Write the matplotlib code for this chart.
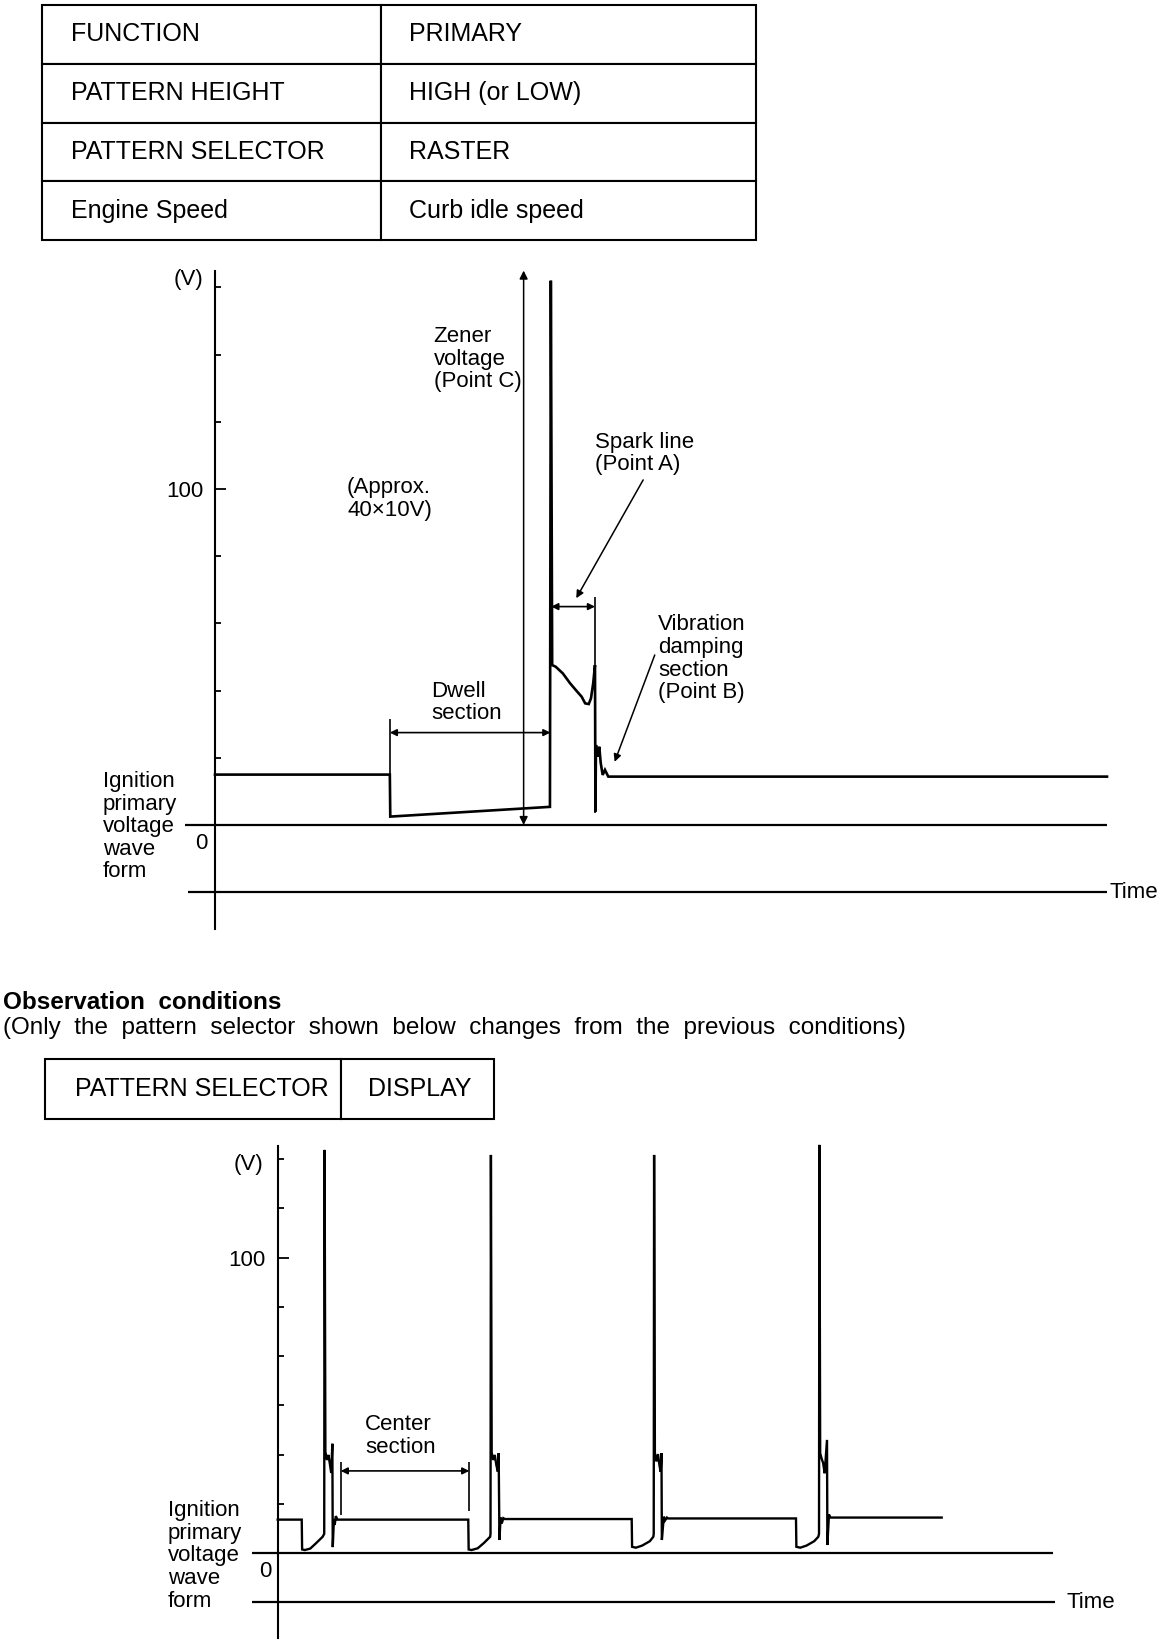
import matplotlib.pyplot as plt

plt.rcParams['font.family'] = ['Liberation Sans', 'DejaVu Sans']

# condition tables
table1_rows = [
    ['FUNCTION', 'PRIMARY'],
    ['PATTERN HEIGHT', 'HIGH (or LOW)'],
    ['PATTERN SELECTOR', 'RASTER'],
    ['Engine Speed', 'Curb idle speed'],
]
table2_rows = [['PATTERN SELECTOR', 'DISPLAY']]

# RASTER pattern: one ignition cycle (time in screen units, volts)
raster_t = [0, 19.6, 19.65, 37.55, 37.65, 37.8, 38.2, 39.0, 39.8, 40.6, 41.1, 41.5, 41.9,
            42.15, 42.4, 42.6, 42.65, 42.71, 42.9, 43.08, 43.24, 43.46, 43.72, 44.09, 100]
raster_v = [15.0, 15.0, 2.5, 5.4, 162, 47.6, 47.1, 45.1, 42.2, 39.7, 38.2, 36.2, 36.0,
            37.7, 42.2, 47.6, 4.0, 23.8, 20.3, 23.3, 18.5, 14.9, 16.4, 14.4, 14.4]
raster_ticks = [20, 40, 60, 80, 100, 120, 140, 160]

# DISPLAY pattern: four cylinders in a row
display_t = [0, 3.10, 3.15, 3.5, 4.2, 4.9, 5.8, 6.0, 6.05, 6.15, 6.35, 6.55, 6.75, 6.9, 7.05, 7.1,
             7.25, 7.35, 7.5, 7.7,
             24.58, 24.63, 25.0, 25.8, 26.6, 27.4, 27.45, 27.5, 27.6, 27.8, 28.0, 28.2, 28.4, 28.5,
             28.6, 28.75, 28.9, 29.1, 29.3,
             45.66, 45.71, 46.2, 47.0, 48.0, 48.45, 48.5, 48.55, 48.65, 48.85, 49.05, 49.25, 49.4,
             49.5, 49.55, 49.8, 49.95, 50.2, 50.35,
             66.85, 66.9, 67.4, 68.2, 69.2, 69.73, 69.82, 69.87, 69.97, 70.15, 70.35, 70.55, 70.85,
             70.9, 71.1, 71.3, 85.64]
display_v = [11.3, 11.3, 1.2, 1.0, 1.5, 3.2, 5.5, 6.5, 136.5, 34.3, 31.5, 33.2, 29.8, 27.1, 37.0, 2.0,
             11.5, 9.5, 12.5, 11.3,
             11.3, 1.2, 1.0, 1.6, 3.4, 5.5, 6.5, 134.8, 34.0, 31.5, 33.2, 29.8, 27.5, 33.8,
             4.4, 12.0, 10.0, 11.8, 11.5,
             11.5, 2.1, 1.8, 2.5, 4.0, 5.5, 6.5, 134.8, 33.8, 31.0, 33.5, 29.5, 27.5,
             33.8, 4.4, 12.3, 11.0, 12.0, 11.7,
             11.7, 2.1, 1.8, 2.5, 4.0, 5.5, 6.5, 138.2, 33.8, 32.0, 30.5, 27.0, 38.3,
             2.7, 13.0, 12.0, 12.0]
display_ticks = [16.7, 33.3, 50, 66.7, 83.3, 100, 116.7, 133.3]

W, H = 1168, 1646
FS = 16
LS = 1.1
fig = plt.figure(figsize=(W / 100, H / 100), dpi=100)


def px_axes(x0, y0, x1, y1):
    return fig.add_axes([x0 / W, 1 - y1 / H, (x1 - x0) / W, (y1 - y0) / H])


def scope_axes(ox, oy, sx, sy, xlim, ylim):
    # ox, oy: pixel position of (t=0, V=0); sx, sy: pixels per unit
    ax = px_axes(ox + xlim[0] * sx, oy - ylim[1] * sy, ox + xlim[1] * sx, oy - ylim[0] * sy)
    ax.set_xlim(*xlim)
    ax.set_ylim(*ylim)
    ax.patch.set_visible(False)
    return ax


def style_scope(ax, bounds, ticks, pad):
    for s in ['top', 'right', 'bottom']:
        ax.spines[s].set_visible(False)
    ax.spines['left'].set_position(('data', 0))
    ax.spines['left'].set_bounds(*bounds)
    ax.spines['left'].set_linewidth(1.5)
    ax.set_xticks([])
    ax.set_yticks([100], ['100'])
    ax.set_yticks([v for v in ticks if v != 100], minor=True)
    ax.tick_params(axis='y', which='major', direction='in', length=8, width=1.3,
                   labelsize=FS, pad=pad)
    ax.tick_params(axis='y', which='minor', direction='in', length=4, width=1.3)


def draw_table(box, rows, col_widths, pads):
    ax = px_axes(*box)
    ax.axis('off')
    tb = ax.table(cellText=rows, colWidths=col_widths, cellLoc='left', bbox=[0, 0, 1, 1])
    tb.auto_set_font_size(False)
    tb.set_fontsize(18)
    for (r, c), cell in tb.get_celld().items():
        cell.set_linewidth(1.5)
        cell.PAD = pads[c]


def dim_arrow(ax, x0, x1, y):
    ax.annotate('', xy=(x1, y), xytext=(x0, y),
                arrowprops=dict(arrowstyle='<|-|>', color='black', lw=1.2,
                                mutation_scale=10, shrinkA=0, shrinkB=0))


def pointer(ax, xy_from, xy_to):
    ax.annotate('', xy=xy_to, xytext=xy_from,
                arrowprops=dict(arrowstyle='-|>', color='black', lw=1.1,
                                mutation_scale=11, shrinkA=0, shrinkB=0))


# ---- first table
draw_table((42, 5, 756, 240), table1_rows, [0.475, 0.525], [0.086, 0.073])

# ---- RASTER scope
ax1 = scope_axes(215, 825, 8.92, 3.36, (-3.5, 100.5), (-33, 167))
style_scope(ax1, (-31, 165), raster_ticks, 8.5)
ax1.hlines(0, -3.36, 100, color='black', lw=1.6)
ax1.hlines(-20, -3.0, 100, color='black', lw=1.6)
ax1.plot(raster_t, raster_v, color='black', lw=1.9, solid_joinstyle='miter')

ax1.text(100.3, -20, 'Time', fontsize=FS, va='center', ha='left', clip_on=False)
ax1.text(-1.35, 162.5, '(V)', fontsize=FS, va='center', ha='right')
ax1.text(-0.8, -5.4, '0', fontsize=FS, va='center', ha='right')
ax1.text(-12.6, -0.5, 'Ignition\nprimary\nvoltage\nwave\nform', fontsize=FS,
         va='center', ha='left', linespacing=LS, clip_on=False)

# zener voltage arrow
ax1.annotate('', xy=(34.6, 165), xytext=(34.6, 0),
             arrowprops=dict(arrowstyle='<|-|>', color='black', lw=1.1,
                             mutation_scale=12, shrinkA=0, shrinkB=0))
ax1.text(24.5, 148.5, 'Zener\nvoltage\n(Point C)', fontsize=FS, va='top', ha='left', linespacing=LS)
ax1.text(14.8, 103.5, '(Approx.\n40×10V)', fontsize=FS, va='top', ha='left', linespacing=LS)

# dwell section
ax1.vlines(19.6, 8.2, 31.5, color='black', lw=1.2)
dim_arrow(ax1, 19.6, 37.6, 27.5)
ax1.text(24.2, 43.0, 'Dwell\nsection', fontsize=FS, va='top', ha='left', linespacing=LS)

# spark line
ax1.vlines(42.6, 3.6, 68, color='black', lw=1.2)
dim_arrow(ax1, 37.7, 42.6, 65)
pointer(ax1, (48.0, 102.7), (40.5, 67.5))
ax1.text(42.6, 117, 'Spark line\n(Point A)', fontsize=FS, va='top', ha='left', linespacing=LS)

# vibration damping
pointer(ax1, (49.3, 50.6), (44.8, 18.8))
ax1.text(49.7, 62.7, 'Vibration\ndamping\nsection\n(Point B)', fontsize=FS, va='top',
         ha='left', linespacing=LS)

# ---- observation conditions
fig.text(3 / W, 1 - 1003 / H, 'Observation  conditions', fontsize=17.5, fontweight='bold',
         va='center')
fig.text(3 / W, 1 - 1028 / H,
         '(Only  the  pattern  selector  shown  below  changes  from  the  previous  conditions)',
         fontsize=17.5, va='center')
draw_table((45, 1059, 494, 1119), table2_rows, [0.659, 0.341], [0.101, 0.18])

# ---- DISPLAY scope
ax2 = scope_axes(277.7, 1553, 7.753, 2.953, (-4, 102), (-30, 140))
style_scope(ax2, (-28.7, 137.7), display_ticks, 9)
ax2.hlines(0, -3.35, 100, color='black', lw=1.6)
ax2.hlines(-16.7, -3.35, 100.25, color='black', lw=1.6)
ax2.plot(display_t, display_v, color='black', lw=1.7, solid_joinstyle='miter')

ax2.text(101.7, -16.7, 'Time', fontsize=FS, va='center', ha='left', clip_on=False)
ax2.text(-1.9, 131.4, '(V)', fontsize=FS, va='center', ha='right')
ax2.text(-0.77, -6.3, '0', fontsize=FS, va='center', ha='right')
ax2.text(-14.15, -1.0, 'Ignition\nprimary\nvoltage\nwave\nform', fontsize=FS,
         va='center', ha='left', linespacing=LS, clip_on=False)

# center section
ax2.vlines(8.13, 12.9, 30.9, color='black', lw=1.2)
ax2.vlines(24.71, 14.2, 30.9, color='black', lw=1.2)
dim_arrow(ax2, 8.13, 24.71, 27.8)
ax2.text(11.26, 47.0, 'Center\nsection', fontsize=FS, va='top', ha='left', linespacing=LS)

fig.savefig('out.png', dpi=100)
